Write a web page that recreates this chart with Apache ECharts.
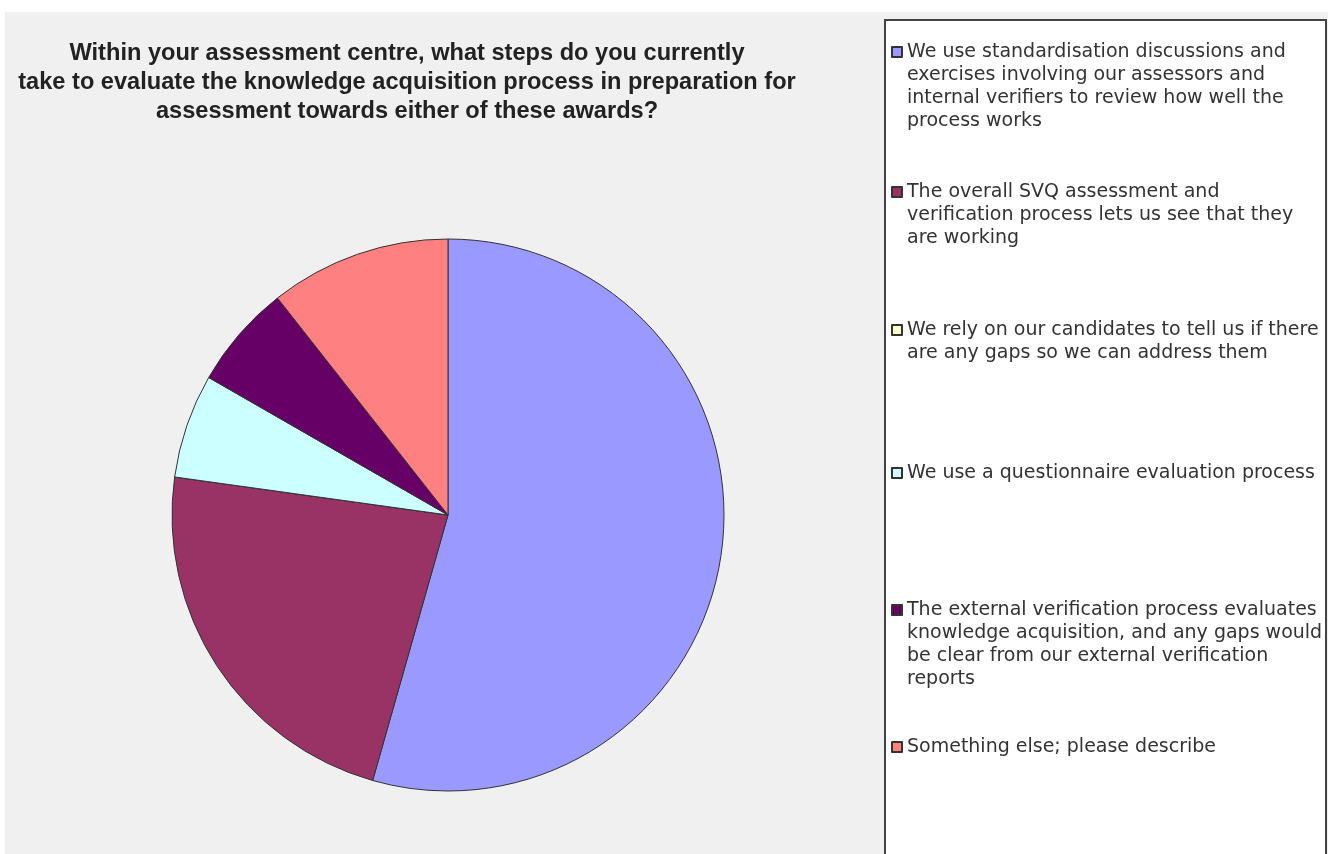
<!DOCTYPE html>
<html>
<head>
<meta charset="utf-8">
<script src="https://cdn.jsdelivr.net/npm/echarts@6/dist/echarts.min.js"></script>
<style>
html,body{margin:0;padding:0;background:#ffffff;}
#chart{position:absolute;left:0;top:0;width:1328px;height:854px;}
</style>
</head>
<body>
<div id="chart"></div>
<script>
const titleLines = [
  "Within your assessment centre, what steps do you currently",
  "take to evaluate the knowledge acquisition process in preparation for",
  "assessment towards either of these awards?"
];
const categories = [
  "We use standardisation discussions and exercises involving our assessors and internal verifiers to review how well the process works",
  "The overall SVQ assessment and verification process lets us see that they are working",
  "We rely on our candidates to tell us if there are any gaps so we can address them",
  "We use a questionnaire evaluation process",
  "The external verification process evaluates knowledge acquisition, and any gaps would be clear from our external verification reports",
  "Something else; please describe"
];
const legendLines = [
  ["We use standardisation discussions and", "exercises involving our assessors and", "internal verifiers to review how well the", "process works"],
  ["The overall SVQ assessment and", "verification process lets us see that they", "are working"],
  ["We rely on our candidates to tell us if there", "are any gaps so we can address them"],
  ["We use a questionnaire evaluation process"],
  ["The external verification process evaluates", "knowledge acquisition, and any gaps would", "be clear from our external verification", "reports"],
  ["Something else; please describe"]
];
// percentage shares
const values = [54.4, 22.8, 0, 6.1, 6.1, 10.6];
const colors = ["#9999FF", "#993366", "#FFFFCC", "#CCFFFF", "#660066", "#FF8080"];

const legendIconCenters = [52, 192, 330, 473, 610, 747];
const LH = 23;

const chart = echarts.init(document.getElementById('chart'), null, {renderer: 'canvas'});

const legends = categories.map((name, i) => {
  const n = legendLines[i].length;
  return {
    data: [name],
    orient: 'vertical',
    left: 891,
    top: legendIconCenters[i] - (2 * n - 1) * LH / 2,
    padding: 0,
    itemWidth: 10,
    itemHeight: 10,
    icon: 'rect',
    selectedMode: false,
    formatter: () => ' \n'.repeat(n - 1) + legendLines[i].join('\n'),
    textStyle: {
      fontFamily: 'DejaVu Sans',
      fontSize: 19,
      color: '#333333',
      lineHeight: LH
    }
  };
});

const option = {
  backgroundColor: '#ffffff',
  animation: false,
  graphic: [
    {type: 'rect', z: -10, shape: {x: 5, y: 12, width: 1323, height: 842}, style: {fill: '#f0f0f0'}},
    {type: 'rect', z: -5, shape: {x: 885, y: 20, width: 441, height: 850}, style: {fill: '#ffffff', stroke: '#444444', lineWidth: 2}}
  ],
  title: {
    text: titleLines.join('\n'),
    left: 407,
    top: 39,
    textAlign: 'center',
    padding: 0,
    textStyle: {
      fontFamily: 'Liberation Sans, Arial, sans-serif',
      fontSize: 23.6,
      fontWeight: 'bold',
      color: '#222222',
      lineHeight: 29
    }
  },
  legend: legends,
  series: [{
    type: 'pie',
    center: [448, 515],
    radius: 276,
    startAngle: 90,
    clockwise: true,
    label: {show: false},
    labelLine: {show: false},
    emphasis: {disabled: true},
    itemStyle: {borderColor: '#333333', borderWidth: 1},
    data: categories.map((name, i) => ({name: name, value: values[i], itemStyle: {color: colors[i]}}))
  }]
};
chart.setOption(option);
</script>
</body>
</html>
